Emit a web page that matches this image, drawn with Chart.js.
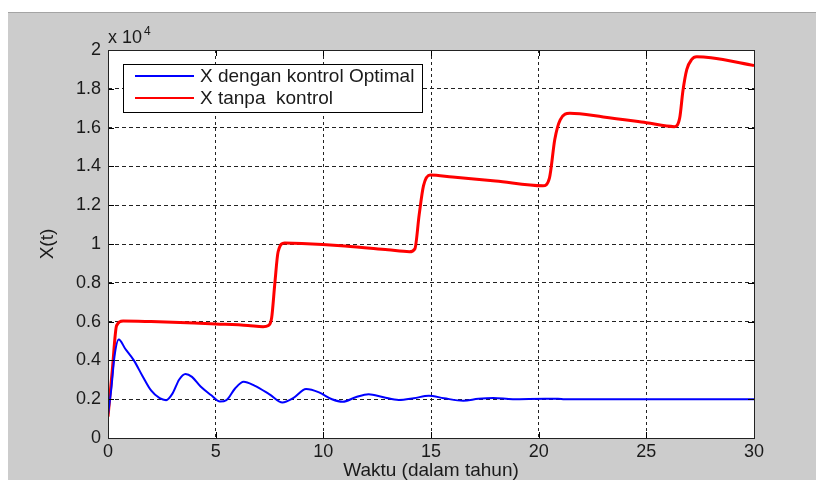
<!DOCTYPE html>
<html>
<head>
<meta charset="utf-8">
<script src="https://cdn.jsdelivr.net/npm/chart.js@4.4.1/dist/chart.umd.min.js"></script>
<style>
    body { margin: 0; background: #ffffff; }
    #wrap {
        position: absolute;
        left: 8px;
        top: 12px;
        width: 808px;
        height: 467px;
        background: #cccccc;
        border-top: 1px solid #a4a4a4;
    }
</style>
</head>
<body>
<div id="wrap"><canvas id="xChart"></canvas></div>
<script>
// time (years) and X(t) values
const tOptimal = [0, 0.15, 0.3, 0.5, 0.8, 1.2, 1.6, 2.0, 2.4, 2.7, 3.0, 3.3, 3.6, 3.9, 4.3, 4.8, 5.2, 5.5, 5.9, 6.3, 6.8, 7.5, 8.1, 8.6, 9.2, 9.8, 10.4, 10.9, 11.5, 12.1, 12.8, 13.5, 14.2, 14.9, 15.6, 16.5, 17.2, 17.9, 18.8, 20.3, 20.9, 21.2, 30];
const xOptimal = [1200, 2500, 4200, 5080, 4600, 4000, 3200, 2450, 2050, 1950, 2300, 3000, 3300, 3150, 2650, 2200, 1880, 1950, 2550, 2900, 2700, 2250, 1830, 2050, 2520, 2350, 2000, 1870, 2100, 2260, 2100, 1960, 2050, 2180, 2050, 1920, 2020, 2060, 2000, 2020, 2020, 2000, 2000];

const tNoControl = [0, 0.2, 0.4, 0.7, 2, 4, 5, 6.5, 7.2, 7.45, 7.6, 7.75, 7.9, 8.2, 9, 11, 13, 14.0, 14.25, 14.45, 14.65, 14.96, 16, 18, 20.2, 20.5, 20.75, 21.0, 21.45, 23, 25, 26.3, 26.55, 26.7, 26.88, 27.1, 27.34, 28, 30];
const xNoControl = [1100, 3500, 5800, 6030, 6000, 5930, 5880, 5800, 5740, 5800, 6200, 8000, 9600, 10050, 10030, 9900, 9700, 9600, 9750, 11500, 13000, 13560, 13450, 13250, 13000, 13400, 15400, 16400, 16740, 16550, 16250, 16050, 16500, 17900, 19000, 19500, 19650, 19600, 19200];

const seriesLabels = ['X dengan kontrol Optimal', 'X tanpa  kontrol'];
const seriesColors = ['#0000ff', '#ff0000'];

const xTicks = [0, 5, 10, 15, 20, 25, 30];
const yTicks = [0, 2000, 4000, 6000, 8000, 10000, 12000, 14000, 16000, 18000, 20000];
const yTickLabels = ['0', '0.2', '0.4', '0.6', '0.8', '1', '1.2', '1.4', '1.6', '1.8', '2'];

const FONT = '"Liberation Sans", Arial, sans-serif';

function toPoints(ts, xs) {
    return ts.map((t, i) => ({ x: t, y: xs[i] }));
}

// white plot area
const whiteArea = {
    id: 'whiteArea',
    beforeDraw(chart) {
        const a = chart.chartArea;
        chart.ctx.save();
        chart.ctx.fillStyle = '#ffffff';
        chart.ctx.fillRect(a.left, a.top, a.right - a.left, a.bottom - a.top);
        chart.ctx.restore();
    }
};

// box, inside ticks, exponent label and legend, drawn like matlab does
const matlabAxes = {
    id: 'matlabAxes',
    afterDatasetsDraw(chart) {
        const ctx = chart.ctx;
        const area = chart.chartArea;
        const xs = chart.scales.x;
        const ys = chart.scales.y;
        const len = 6;

        ctx.save();
        ctx.strokeStyle = '#000000';
        ctx.lineWidth = 1;
        ctx.beginPath();
        xTicks.forEach(v => {
            const px = Math.round(xs.getPixelForValue(v)) + 0.5;
            ctx.moveTo(px, area.bottom);
            ctx.lineTo(px, area.bottom - len);
            ctx.moveTo(px, area.top);
            ctx.lineTo(px, area.top + len);
        });
        yTicks.forEach(v => {
            const py = Math.round(ys.getPixelForValue(v)) + 0.5;
            ctx.moveTo(area.left, py);
            ctx.lineTo(area.left + len, py);
            ctx.moveTo(area.right, py);
            ctx.lineTo(area.right - len, py);
        });
        ctx.stroke();

        ctx.strokeStyle = '#222222';
        ctx.strokeRect(Math.round(area.left) + 0.5, Math.round(area.top) + 0.5,
            Math.round(area.right - area.left), Math.round(area.bottom - area.top));

        // exponent
        ctx.fillStyle = '#1a1a1a';
        ctx.textAlign = 'left';
        ctx.textBaseline = 'alphabetic';
        ctx.font = '18px ' + FONT;
        ctx.fillText('x 10', area.left, area.top - 7);
        const w = ctx.measureText('x 10').width;
        ctx.font = '12px ' + FONT;
        ctx.fillText('4', area.left + w + 2, area.top - 15);

        // legend
        const bx = area.left + 15;
        const by = area.top + 14;
        const bw = 299;
        const bh = 48;
        ctx.fillStyle = '#ffffff';
        ctx.fillRect(bx, by, bw, bh);
        ctx.strokeStyle = '#000000';
        ctx.strokeRect(bx + 0.5, by + 0.5, bw, bh);
        ctx.font = '19px ' + FONT;
        ctx.textBaseline = 'middle';
        chart.data.datasets.forEach((ds, i) => {
            const ly = by + 12 + i * 22;
            ctx.strokeStyle = ds.borderColor;
            ctx.lineWidth = 2;
            ctx.beginPath();
            ctx.moveTo(bx + 12, ly);
            ctx.lineTo(bx + 71, ly);
            ctx.stroke();
            ctx.fillStyle = '#1a1a1a';
            ctx.fillText(ds.label, bx + 77, ly + 1);
        });
        ctx.restore();
    }
};

const config = {
    type: 'line',
    data: {
        datasets: [
            {
                label: seriesLabels[0],
                data: toPoints(tOptimal, xOptimal),
                borderColor: seriesColors[0],
                borderWidth: 2,
                pointRadius: 0,
                cubicInterpolationMode: 'monotone',
            },
            {
                label: seriesLabels[1],
                data: toPoints(tNoControl, xNoControl),
                borderColor: seriesColors[1],
                borderWidth: 3,
                pointRadius: 0,
                cubicInterpolationMode: 'monotone',
            },
        ],
    },
    options: {
        responsive: true,
        maintainAspectRatio: false,
        animation: false,
        layout: { padding: { top: 37, right: 62, left: 0, bottom: 0 } },
        plugins: {
            legend: { display: false },
            tooltip: { enabled: false },
        },
        scales: {
            x: {
                type: 'linear',
                min: 0,
                max: 30,
                afterFit: scale => { scale.height = 42; },
                afterBuildTicks: scale => { scale.ticks = xTicks.map(v => ({ value: v })); },
                // in v4 the border dash is also used for the grid lines
                border: { display: false, dash: [3, 3] },
                grid: {
                    color: '#222222',
                    drawTicks: false,
                },
                ticks: {
                    padding: 3,
                    color: '#1a1a1a',
                    font: { family: FONT, size: 18 },
                    maxRotation: 0,
                },
                title: {
                    display: true,
                    text: 'Waktu (dalam tahun)',
                    color: '#1a1a1a',
                    font: { family: FONT, size: 19, lineHeight: 1 },
                    padding: { top: 0, bottom: 0 },
                },
            },
            y: {
                min: 0,
                max: 20000,
                afterFit: scale => { scale.width = 100; },
                afterBuildTicks: scale => { scale.ticks = yTicks.map(v => ({ value: v })); },
                border: { display: false, dash: [4, 3] },
                grid: {
                    color: '#222222',
                    drawTicks: false,
                },
                ticks: {
                    padding: 7,
                    color: '#1a1a1a',
                    font: { family: FONT, size: 18 },
                    callback: (value, index) => yTickLabels[index],
                },
                title: {
                    display: true,
                    text: 'X(t)',
                    color: '#1a1a1a',
                    font: { family: FONT, size: 19, lineHeight: 1 },
                    padding: { top: 30, bottom: 0 },
                },
            },
        },
    },
    plugins: [whiteArea, matlabAxes],
};

const myChart = new Chart(document.getElementById('xChart').getContext('2d'), config);
</script>
</body>
</html>
